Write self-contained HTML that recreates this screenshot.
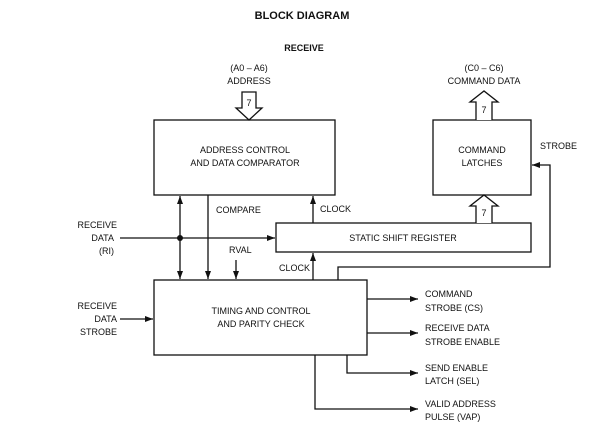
<!DOCTYPE html>
<html><head><style>
body{margin:0;background:#fff;}
svg text{font-family:"Liberation Sans",sans-serif;font-size:9px;fill:#111;}
</style></head><body>
<svg width="604" height="441" viewBox="0 0 604 441" xmlns="http://www.w3.org/2000/svg">
<defs><marker id="a" markerWidth="8" markerHeight="6" refX="8" refY="3" orient="auto" markerUnits="userSpaceOnUse"><path d="M0,0 L8,3 L0,6z" fill="#111"/></marker></defs>
<g stroke="#111" stroke-width="1.3" fill="none">
<rect x="154" y="120" width="181" height="75"/>
<rect x="433" y="120" width="98" height="75"/>
<rect x="276" y="223" width="255" height="29"/>
<rect x="154" y="280" width="213" height="75"/>
<path d="M242,92 V108 H236 L249,120 L262,108 H256 V92 Z" fill="#fff"/>
<path d="M476,120 V102 H470 L484,91 L498,102 H492 V120" fill="#fff"/>
<path d="M476,223 V206 H470 L484,195 L498,206 H492 V223" fill="#fff"/>
<line x1="180" y1="238" x2="180" y2="196" marker-end="url(#a)"/>
<line x1="180" y1="238" x2="180" y2="279" marker-end="url(#a)"/>
<line x1="208" y1="195" x2="208" y2="279" marker-end="url(#a)"/>
<line x1="313" y1="223" x2="313" y2="196" marker-end="url(#a)"/>
<line x1="236" y1="260" x2="236" y2="279" marker-end="url(#a)"/>
<line x1="313" y1="280" x2="313" y2="253" marker-end="url(#a)"/>
<line x1="120" y1="238" x2="275" y2="238" marker-end="url(#a)"/>
<polyline points="338,280 338,267 550,267 550,165 532,165" marker-end="url(#a)"/>
<line x1="120" y1="319" x2="153" y2="319" marker-end="url(#a)"/>
<line x1="367" y1="299" x2="418" y2="299" marker-end="url(#a)"/>
<line x1="367" y1="333" x2="418" y2="333" marker-end="url(#a)"/>
<polyline points="347,355 347,373 418,373" marker-end="url(#a)"/>
<polyline points="315,355 315,409 418,409" marker-end="url(#a)"/>
</g>
<circle cx="180" cy="238" r="3" fill="#111"/>
<text x="302" y="19" text-anchor="middle" style="font-weight:bold;font-size:11px">BLOCK DIAGRAM</text>
<text x="304" y="51" text-anchor="middle" style="font-weight:bold;font-size:9px">RECEIVE</text>
<text x="249" y="71" text-anchor="middle">(A0 – A6)</text>
<text x="249" y="84" text-anchor="middle">ADDRESS</text>
<text x="249" y="106" text-anchor="middle">7</text>
<text x="484" y="71" text-anchor="middle">(C0 – C6)</text>
<text x="484" y="84" text-anchor="middle">COMMAND DATA</text>
<text x="484" y="113" text-anchor="middle">7</text>
<text x="484" y="216" text-anchor="middle">7</text>
<text x="245" y="153" text-anchor="middle">ADDRESS CONTROL</text>
<text x="245" y="166" text-anchor="middle">AND DATA COMPARATOR</text>
<text x="482" y="153" text-anchor="middle">COMMAND</text>
<text x="482" y="166" text-anchor="middle">LATCHES</text>
<text x="540" y="149">STROBE</text>
<text x="216" y="213">COMPARE</text>
<text x="320" y="212">CLOCK</text>
<text x="403" y="241" text-anchor="middle">STATIC SHIFT REGISTER</text>
<text x="229" y="253">RVAL</text>
<text x="279" y="271">CLOCK</text>
<text x="117" y="228" text-anchor="end">RECEIVE</text>
<text x="114" y="241" text-anchor="end">DATA</text>
<text x="114" y="254" text-anchor="end">(RI)</text>
<text x="117" y="309" text-anchor="end">RECEIVE</text>
<text x="117" y="322" text-anchor="end">DATA</text>
<text x="117" y="335" text-anchor="end">STROBE</text>
<text x="261" y="314" text-anchor="middle">TIMING AND CONTROL</text>
<text x="261" y="327" text-anchor="middle">AND PARITY CHECK</text>
<text x="425" y="297">COMMAND</text>
<text x="425" y="311">STROBE (CS)</text>
<text x="425" y="331">RECEIVE DATA</text>
<text x="425" y="345">STROBE ENABLE</text>
<text x="425" y="371">SEND ENABLE</text>
<text x="425" y="384">LATCH (SEL)</text>
<text x="425" y="407">VALID ADDRESS</text>
<text x="425" y="420">PULSE (VAP)</text>
</svg>
</body></html>
